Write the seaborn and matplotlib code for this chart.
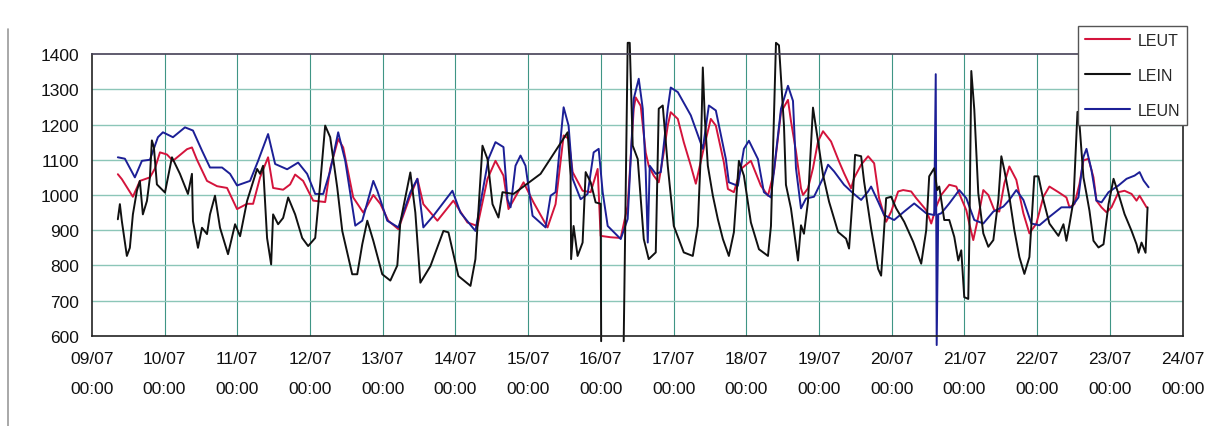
import pandas as pd
import matplotlib
matplotlib.use('Agg')
import matplotlib.pyplot as plt
import matplotlib.dates as mdates
from matplotlib.lines import Line2D
import seaborn as sns

START = pd.Timestamp('2007-07-09 00:00')
NA = float('nan')  # logger gap on 16/07

# days since 09/07 00:00 and readings
leut_days = [0.358, 0.413, 0.565, 0.661, 0.799, 0.868, 0.937, 1.033, 1.116, 1.309,
             1.377, 1.446, 1.584, 1.722, 1.860, 1.997, 2.135, 2.218, 2.314, 2.424,
             2.493, 2.631, 2.727, 2.796, 2.906, 3.044, 3.209, 3.278, 3.388, 3.457,
             3.595, 3.733, 3.871, 3.967, 4.077, 4.215, 4.380, 4.477, 4.559, 4.752,
             4.972, 5.165, 5.303, 5.441, 5.551, 5.661, 5.730, 5.937, 6.074, 6.267,
             6.377, 6.488, 6.556, 6.612, 6.749, 6.860, 6.956, 6.997, 7.135, 7.273,
             7.369, 7.452, 7.479, 7.548, 7.617, 7.658, 7.727, 7.796, 7.865, 7.920,
             7.961, 8.058, 8.140, 8.237, 8.306, 8.402, 8.512, 8.581, 8.691, 8.747,
             8.829, 8.926, 9.063, 9.201, 9.298, 9.380, 9.477, 9.573, 9.614, 9.683,
             9.752, 9.780, 9.848, 9.917, 9.986, 10.055, 10.165, 10.275, 10.344, 10.441,
             10.482, 10.579, 10.675, 10.758, 10.826, 10.923, 10.992, 11.088, 11.157, 11.267,
             11.336, 11.474, 11.543, 11.612, 11.680, 11.791, 11.887, 12.025, 12.066, 12.121,
             12.190, 12.259, 12.328, 12.410, 12.479, 12.548, 12.617, 12.713, 12.810, 12.893,
             12.989, 13.085, 13.168, 13.292, 13.402, 13.444, 13.512, 13.581, 13.636, 13.705,
             13.774, 13.815, 13.884, 13.953, 14.022, 14.118, 14.201, 14.298, 14.366, 14.408,
             14.504]
leut_vals = [1059, 1045, 995, 1040, 1050, 1075, 1121, 1115, 1097, 1130,
             1135, 1100, 1040, 1025, 1020, 960, 975, 975, 1050, 1107,
             1020, 1015, 1030, 1058, 1040, 984, 980, 1075, 1159, 1135,
             993, 950, 1000, 975, 927, 903, 998, 1046, 974, 927,
             984, 922, 912, 1046, 1097, 1055, 960, 1036, 979, 908,
             974, 1169, 1160, 1065, 1012, 1008, 1074, 884, 880, 878,
             970, 1245, 1277, 1253, 1120, 1083, 1055, 1036, 1121, 1197,
             1235, 1216, 1150, 1083, 1032, 1121, 1216, 1197, 1093, 1017,
             1008, 1074, 1097, 1026, 998, 1065, 1235, 1270, 1210, 1124,
             1019, 1000, 1019, 1076, 1152, 1181, 1152, 1095, 1062, 1019,
             1048, 1086, 1110, 1090, 991, 924, 953, 1010, 1014, 1010,
             991, 957, 919, 967, 1000, 1029, 1024, 957, 919, 872,
             938, 1014, 1000, 957, 953, 1033, 1081, 1043, 948, 891,
             919, 995, 1024, 1008, 993, 965, 974, 1031, 1098, 1103,
             1050, 984, 965, 951, 965, 1008, 1012, 1003, 984, 998,
             965]

lein_days = [0.358, 0.386, 0.413, 0.482, 0.523, 0.565, 0.620, 0.661, 0.702, 0.758,
             0.799, 0.826, 0.854, 0.895, 1.006, 1.102, 1.212, 1.322, 1.377, 1.391,
             1.460, 1.515, 1.584, 1.625, 1.694, 1.763, 1.873, 1.970, 2.039, 2.135,
             2.273, 2.314, 2.355, 2.410, 2.466, 2.493, 2.562, 2.631, 2.700, 2.796,
             2.893, 2.975, 3.072, 3.140, 3.209, 3.278, 3.375, 3.444, 3.581, 3.650,
             3.719, 3.788, 3.871, 3.994, 4.105, 4.201, 4.242, 4.380, 4.449, 4.518,
             4.656, 4.835, 4.904, 5.041, 5.207, 5.275, 5.372, 5.441, 5.510, 5.592,
             5.647, 5.799, 6.171, 6.543, 6.584, 6.591, 6.625, 6.680, 6.749, 6.791,
             6.860, 6.928, 6.997, 7.004, 7.150, 7.314, 7.369, 7.397, 7.438, 7.507, 7.590,
             7.658, 7.755, 7.796, 7.851, 7.920, 8.003, 8.140, 8.264, 8.333, 8.375,
             8.402, 8.430, 8.471, 8.540, 8.609, 8.678, 8.760, 8.829, 8.898, 8.967,
             9.063, 9.174, 9.298, 9.339, 9.408, 9.449, 9.518, 9.545, 9.614, 9.711,
             9.752, 9.793, 9.848, 9.917, 9.959, 10.055, 10.138, 10.262, 10.372, 10.413,
             10.468, 10.496, 10.579, 10.620, 10.716, 10.813, 10.854, 10.923, 10.992, 11.061,
             11.171, 11.295, 11.405, 11.474, 11.515, 11.584, 11.625, 11.653, 11.722, 11.791,
             11.860, 11.915, 11.956, 11.997, 12.052, 12.066, 12.094, 12.135, 12.190, 12.259,
             12.328, 12.397, 12.466, 12.507, 12.548, 12.617, 12.686, 12.755, 12.824, 12.893,
             12.961, 13.017, 13.085, 13.168, 13.292, 13.361, 13.402, 13.444, 13.499, 13.554,
             13.581, 13.636, 13.678, 13.719, 13.774, 13.843, 13.912, 13.981, 14.050, 14.118,
             14.201, 14.298, 14.366, 14.394, 14.435, 14.490, 14.518]
lein_vals = [931, 974, 926, 827, 850, 945, 1012, 1040, 945, 983,
             1050, 1155, 1135, 1030, 1007, 1107, 1060, 1003, 1060, 926,
             850, 907, 889, 945, 998, 907, 832, 917, 883, 983,
             1074, 1060, 1083, 878, 803, 945, 917, 935, 993, 945,
             878, 855, 878, 1030, 1197, 1164, 1021, 898, 775, 775,
             860, 927, 870, 775, 757, 800, 922, 1064, 950, 751,
             798, 898, 894, 770, 742, 818, 1140, 1102, 974, 936,
             1008, 1003, 1060, 1178, 1055, 818, 912, 827, 865, 1065,
             1036, 979, 975, 585, NA, 585, 1432, 1432, 1140, 1102, 875,
             818, 837, 1245, 1254, 1083, 912, 837, 827, 912, 1121,
             1362, 1216, 1083, 998, 931, 875, 827, 894, 1097, 1055,
             922, 846, 827, 912, 1432, 1425, 1197, 1029, 962, 814,
             914, 890, 981, 1248, 1190, 1057, 981, 895, 876, 848,
             1010, 1114, 1110, 1038, 905, 790, 771, 991, 995, 962,
             924, 867, 805, 900, 1053, 1076, 1014, 1024, 929, 929,
             881, 814, 843, 710, 705, 862, 1352, 1243, 1005, 891,
             853, 872, 986, 1110, 1071, 995, 900, 824, 776, 824,
             1053, 1053, 986, 919, 884, 917, 870, 917, 984, 1236,
             1203, 1050, 1003, 955, 870, 851, 860, 974, 1046, 1003,
             946, 898, 860, 836, 865, 836, 965]

leun_days = [0.358, 0.455, 0.592, 0.689, 0.799, 0.909, 0.978, 1.116, 1.281, 1.391,
             1.515, 1.625, 1.791, 1.901, 1.997, 2.176, 2.287, 2.424, 2.521, 2.686,
             2.837, 2.961, 3.072, 3.182, 3.278, 3.388, 3.485, 3.623, 3.719, 3.871,
             3.926, 4.063, 4.215, 4.380, 4.477, 4.559, 4.697, 4.959, 5.069, 5.275,
             5.372, 5.455, 5.551, 5.661, 5.716, 5.758, 5.826, 5.895, 5.964, 6.061,
             6.240, 6.309, 6.377, 6.488, 6.556, 6.612, 6.722, 6.818, 6.901, 6.970,
             7.025, 7.094, 7.273, 7.369, 7.452, 7.521, 7.576, 7.617, 7.645, 7.672,
             7.755, 7.824, 7.920, 7.961, 8.058, 8.237, 8.402, 8.485, 8.581, 8.719,
             8.760, 8.884, 8.967, 9.036, 9.160, 9.242, 9.339, 9.477, 9.573, 9.642,
             9.683, 9.752, 9.821, 9.931, 10.055, 10.124, 10.207, 10.344, 10.468, 10.579,
             10.675, 10.716, 10.813, 10.895, 11.033, 11.171, 11.309, 11.474, 11.584, 11.605,
             11.618, 11.639, 11.680, 11.791, 11.928, 12.025, 12.135, 12.259, 12.397, 12.534,
             12.617, 12.713, 12.810, 12.920, 13.030, 13.168, 13.333, 13.471, 13.567, 13.636,
             13.678, 13.747, 13.815, 13.884, 13.981, 14.118, 14.229, 14.339, 14.408, 14.463,
             14.532]
leun_vals = [1107, 1103, 1050, 1097, 1100, 1164, 1178, 1164, 1192, 1183,
             1126, 1078, 1078, 1060, 1027, 1040, 1097, 1173, 1088, 1073,
             1092, 1060, 1003, 1003, 1068, 1178, 1097, 913, 927, 1040,
             1012, 927, 908, 1008, 1046, 908, 941, 1012, 950, 898,
             1008, 1103, 1150, 1136, 988, 965, 1083, 1112, 1083, 941,
             908, 998, 1008, 1249, 1197, 1046, 988, 1003, 1121, 1131,
             1008, 912, 875, 932, 1273, 1330, 1245, 1065, 865, 1083,
             1060, 1065, 1245, 1305, 1292, 1226, 1131, 1254, 1240, 1102,
             1036, 1026, 1131, 1154, 1102, 1008, 993, 1245, 1310, 1267,
             1076, 962, 990, 995, 1048, 1086, 1067, 1029, 1005, 986,
             1010, 1024, 981, 943, 929, 953, 976, 948, 943, 1343,
             574, 945, 948, 976, 1014, 991, 929, 919, 953, 967,
             986, 1014, 986, 919, 914, 938, 965, 965, 993, 1108,
             1131, 1070, 984, 979, 1008, 1027, 1046, 1055, 1065, 1041,
             1022]

series_names = ['LEUT', 'LEIN', 'LEUN']
colors = {'LEUT': '#d4143c', 'LEIN': '#111111', 'LEUN': '#1c1f96'}


def make_frame(days, vals):
    df = pd.DataFrame({'time': START + pd.to_timedelta(days, unit='D'), 'value': vals})
    df['seg'] = df.value.isna().cumsum()  # break the line where readings are missing
    return df.dropna()


frames = {'LEUT': make_frame(leut_days, leut_vals),
          'LEIN': make_frame(lein_days, lein_vals),
          'LEUN': make_frame(leun_days, leun_vals)}

sns.set_style('white')
plt.rcParams['font.family'] = ['Liberation Sans', 'DejaVu Sans']

fig = plt.figure(figsize=(12.08, 4.27), dpi=100)
ax = fig.add_axes([0.076, 0.211, 0.903, 0.660])

for name in ['LEUT', 'LEUN', 'LEIN']:
    sns.lineplot(data=frames[name], x='time', y='value', units='seg', ax=ax,
                 color=colors[name], linewidth=1.4, estimator=None, sort=False,
                 clip_on=False)

ax.set_xlim(START, START + pd.Timedelta(days=15))
ax.set_ylim(600, 1400)
ax.set_yticks(range(600, 1401, 100))
ax.xaxis.set_major_locator(mdates.DayLocator())
ax.xaxis.set_major_formatter(mdates.DateFormatter('%d/%m\n%H:%M'))
ax.set_xlabel('')
ax.set_ylabel('')

ax.grid(False)
for d in pd.date_range(START, periods=16, freq='D')[1:-1]:
    ax.axvline(d, color='#3f9585', lw=0.8, zorder=0)
for v in range(700, 1400, 100):
    ax.axhline(v, color='#8cc6b8', lw=1.0, zorder=0)

for s in ax.spines.values():
    s.set_color('#222222')
    s.set_linewidth(1.2)
ax.spines['top'].set_color('#444055')

ax.tick_params(axis='both', direction='out', length=4, width=0.8, color='#222222',
               labelsize=12.5, labelcolor='#111111')
ax.tick_params(axis='y', pad=5)
ax.tick_params(axis='x', pad=7)
for lab in ax.get_xticklabels():
    lab.set_linespacing(2.25)

handles = [Line2D([], [], color=colors[n], lw=1.5) for n in series_names]
leg = fig.legend(handles, series_names, loc='upper right', bbox_to_anchor=(0.983, 0.937),
                 bbox_transform=fig.transFigure, fontsize=11.5, frameon=True,
                 fancybox=False, framealpha=1, edgecolor='#555555', handlelength=2.8,
                 labelspacing=1.25, borderpad=0.45, handletextpad=0.5, borderaxespad=0)
leg.get_frame().set_linewidth(1.0)

fig.add_artist(Line2D([0.007, 0.007], [0.0, 0.93], color='#9a9a9a', lw=1.2))

fig.savefig('out.png', dpi=100)
